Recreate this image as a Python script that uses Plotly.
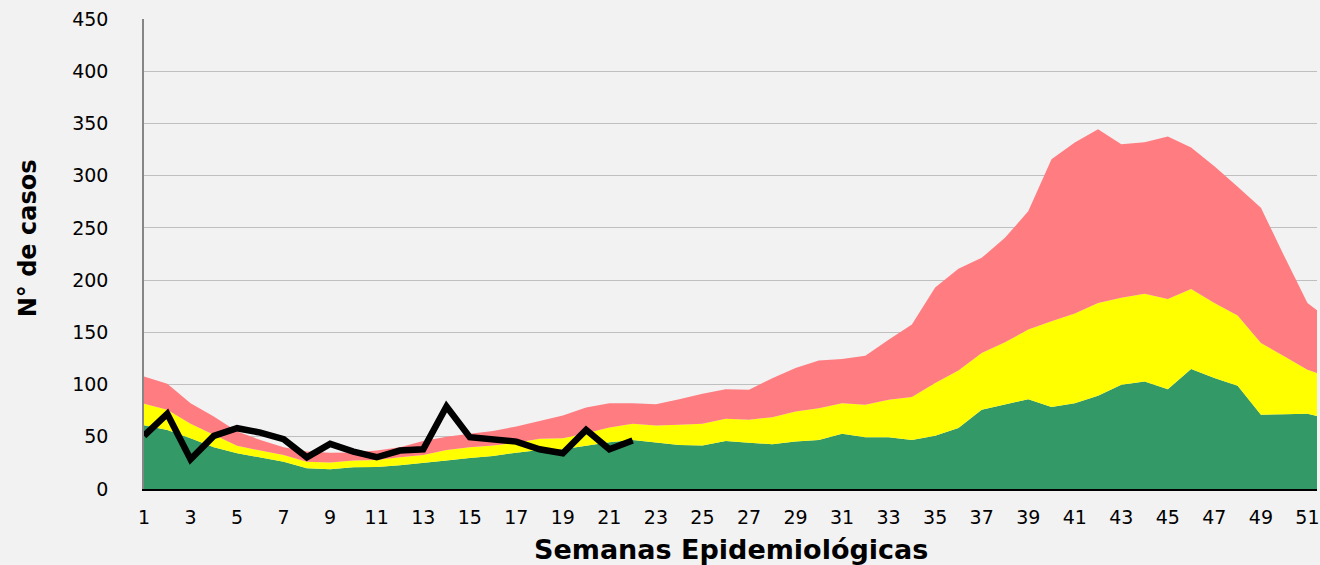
import plotly.graph_objects as go

weeks = list(range(1, 53))

# Endemic channel boundaries (cumulative upper limits of each zone)
zona_exito = [61, 56.6, 48.6, 40, 34.2, 30, 26.2, 19.8, 18.9, 20.8, 21, 22.7, 24.6, 27.2,
              29.8, 31.7, 34.8, 37.4, 38, 41.3, 44.8, 47, 44.4, 42.2, 41.6, 46, 44.4, 42.9,
              45.4, 47, 52.8, 49.6, 49.6, 47, 50.9, 58.5, 75.8, 80.6, 86, 78.4, 82.2, 89.2,
              99.8, 103, 95.6, 114.8, 106.2, 98.8, 71, 71.6, 72, 67]
zona_seguridad = [81.6, 75.8, 62.4, 51.8, 41.3, 36.8, 32.6, 26.2, 25.3, 27.2, 27.8, 30.4, 32.6,
                  37.4, 40, 41.6, 44.4, 48, 48.6, 53.4, 58.8, 62.4, 60.8, 61.4, 62.4, 67.2,
                  66.2, 68.8, 74.2, 77.4, 82.2, 80.6, 85.4, 88, 101.4, 113.5, 130.2, 140.4,
                  152.6, 160.5, 168, 178, 183, 187, 182, 191.6, 178, 166, 139.8, 127, 114.2, 106.5]
zona_alarma = [107.8, 100.7, 82.2, 69.4, 55, 47, 40, 35.8, 34.8, 35, 36.8, 40, 46, 50, 52.8,
               55.6, 59.8, 65.2, 70.4, 78, 82.2, 82, 81.2, 86, 91.2, 95.6, 95, 106, 115.8, 123,
               124.4, 127.6, 143, 157.4, 193, 210.8, 221.3, 240.5, 266, 315.7, 331.7, 344.5,
               330, 332, 337.4, 326.9, 309, 289.5, 269.3, 223, 178, 161]

obs_weeks = list(range(1, 23))
casos_obs = [50.9, 72, 28.5, 50.9, 58.2, 54, 47.7, 30.4, 43.2, 35.8, 30.4, 36.8, 38, 79,
             49.6, 47, 45.4, 38, 34.2, 56.6, 38, 46.4]

x_ticks = list(range(1, 52, 2))
y_ticks = list(range(0, 451, 50))

fig = go.Figure()
fig.add_trace(go.Scatter(x=weeks, y=zona_exito, mode="lines", line=dict(width=0, color="#339966"),
                         fill="tozeroy", fillcolor="#339966", name="Éxito", hoverinfo="skip"))
fig.add_trace(go.Scatter(x=weeks, y=zona_seguridad, mode="lines", line=dict(width=0, color="#FFFF00"),
                         fill="tonexty", fillcolor="#FFFF00", name="Seguridad", hoverinfo="skip"))
fig.add_trace(go.Scatter(x=weeks, y=zona_alarma, mode="lines", line=dict(width=0, color="#FF7C80"),
                         fill="tonexty", fillcolor="#FF7C80", name="Alarma", hoverinfo="skip"))
fig.add_trace(go.Scatter(x=obs_weeks, y=casos_obs, mode="lines",
                         line=dict(width=6.5, color="#000000"), name="Casos"))

fig.update_layout(
    width=1320, height=565,
    margin=dict(l=144, r=0, t=19, b=76),
    paper_bgcolor="#F2F2F2", plot_bgcolor="#F2F2F2",
    showlegend=False,
    font=dict(family="DejaVu Sans", size=19, color="#000000"),
)
fig.update_xaxes(range=[1, 51.41], tickvals=x_ticks, ticktext=[str(v) for v in x_ticks],
                 showgrid=False, zeroline=False, showline=True, linecolor="#000000", linewidth=2,
                 ticks="", ticklabelstandoff=10, ticklabeloverflow="allow", tickfont=dict(size=19))
fig.update_yaxes(range=[0, 450], tickvals=y_ticks, showgrid=True, gridcolor="#BFBFBF", gridwidth=1.3,
                 zeroline=False, showline=True, linecolor="#868686", linewidth=1.5,
                 ticks="", ticklabelstandoff=30, tickfont=dict(size=19))

pw = 1320 - 144
ph = 565 - 19 - 76
fig.add_annotation(text="<b>Semanas Epidemiológicas</b>", showarrow=False,
                   x=(733 - 144) / pw, y=(565 - 76 - 549) / ph, xref="paper", yref="paper",
                   font=dict(family="DejaVu Sans", size=27, color="#000000"),
                   xanchor="center", yanchor="middle")
fig.add_annotation(text="<b>N° de casos</b>", textangle=-90, showarrow=False,
                   x=(28 - 144) / pw, y=(489 - 238) / ph, xref="paper", yref="paper",
                   font=dict(family="DejaVu Sans", size=24, color="#000000"),
                   xanchor="center", yanchor="middle")

fig.write_html("out.html", config={"displayModeBar": False},
               post_script="document.body.style.margin='0';document.body.style.overflow='hidden';")
